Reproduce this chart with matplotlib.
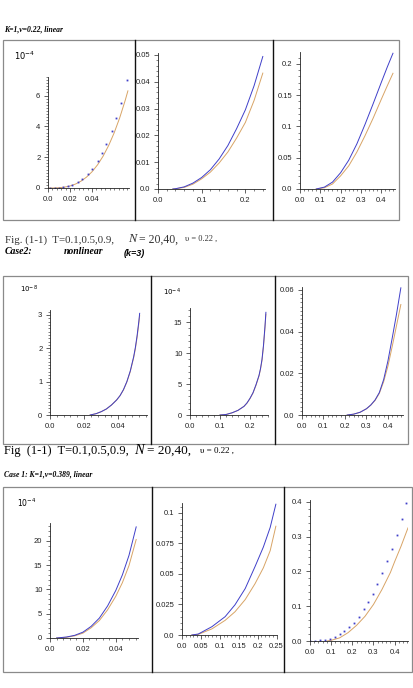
import matplotlib
matplotlib.use("Agg")
import matplotlib.pyplot as plt
from matplotlib.ticker import FixedLocator, AutoMinorLocator
from matplotlib.patches import Rectangle
from matplotlib.lines import Line2D

W, H = 414, 688
BLUE = '#3f3fc9'
ORANGE = '#d8a466'
SANS = 'Liberation Sans'
SERIF = 'Liberation Serif'

# ── data ─────────────────────────────────────────────────────────────────
# row 1, panel 1  (units of 1e-4)
r1p1_dot_x = [0.002, 0.006, 0.010, 0.014, 0.018, 0.022, 0.027, 0.031, 0.036,
              0.040, 0.045, 0.049, 0.053, 0.058, 0.062, 0.066, 0.0715]
r1p1_dot_y = [0.0, 0.0, 0.02, 0.05, 0.13, 0.20, 0.37, 0.57, 0.89,
              1.22, 1.74, 2.25, 2.84, 3.72, 4.55, 5.49, 6.98]
r1p1_line_x = [0.0, 0.005, 0.01, 0.015, 0.02, 0.025, 0.03, 0.035, 0.04,
               0.045, 0.05, 0.055, 0.06, 0.065, 0.07, 0.0725]
r1p1_line_y = [0.0, 0.002, 0.017, 0.056, 0.132, 0.258, 0.446, 0.709, 1.058,
               1.506, 2.066, 2.750, 3.571, 4.540, 5.670, 6.30]

# row 1, panel 2
r1p2_x = [0.034, 0.04, 0.06, 0.08, 0.10, 0.12, 0.14, 0.16, 0.18, 0.20, 0.22, 0.24]
r1p2_blue = [0.0, 0.0001, 0.0008, 0.0022, 0.0043, 0.0072, 0.0112, 0.0162,
             0.0225, 0.0295, 0.0385, 0.0494]
r1p2_orange = [0.0, 0.0001, 0.0006, 0.0018, 0.0038, 0.0063, 0.0097, 0.0138,
               0.0190, 0.0248, 0.0330, 0.0432]

# row 1, panel 3
r1p3_x = [0.08, 0.12, 0.16, 0.20, 0.24, 0.28, 0.32, 0.36, 0.40, 0.43, 0.458]
r1p3_blue = [0.0, 0.003, 0.011, 0.026, 0.046, 0.072, 0.103, 0.136, 0.170, 0.195, 0.217]
r1p3_orange = [0.0, 0.002, 0.008, 0.021, 0.037, 0.059, 0.085, 0.113, 0.143, 0.165, 0.185]

# row 2, panel 1  (units of 1e-8)
r2p1_x = [0.0235, 0.027, 0.03, 0.033, 0.036, 0.039, 0.041, 0.043, 0.045, 0.047,
          0.049, 0.050, 0.051, 0.052, 0.0525]
r2p1_blue = [0.0, 0.04, 0.10, 0.18, 0.30, 0.45, 0.58, 0.76, 1.00, 1.32,
             1.75, 2.03, 2.38, 2.80, 3.05]
r2p1_orange = [0.0, 0.04, 0.10, 0.18, 0.30, 0.45, 0.58, 0.75, 0.99, 1.30,
               1.72, 1.99, 2.33, 2.74, 2.98]

# row 2, panel 2  (units of 1e-4)
r2p2_x = [0.10, 0.12, 0.14, 0.16, 0.18, 0.19, 0.20, 0.21, 0.22, 0.23, 0.235,
          0.24, 0.245, 0.25, 0.253]
r2p2_blue = [0.0, 0.08, 0.35, 0.75, 1.4, 1.95, 2.7, 3.6, 4.9, 6.4, 7.5,
             9.0, 11.3, 14.4, 16.6]
r2p2_orange = [0.0, 0.08, 0.35, 0.75, 1.4, 1.93, 2.65, 3.55, 4.8, 6.3, 7.4,
               8.8, 11.1, 14.1, 16.3]

# row 2, panel 3
r2p3_x = [0.21, 0.24, 0.27, 0.30, 0.32, 0.34, 0.36, 0.38, 0.40, 0.42, 0.44, 0.46]
r2p3_blue = [0.0, 0.0004, 0.0013, 0.003, 0.0048, 0.0072, 0.0108, 0.017, 0.026,
             0.037, 0.0485, 0.061]
r2p3_orange = [0.0, 0.0004, 0.0013, 0.003, 0.0047, 0.0070, 0.0104, 0.016, 0.0235,
               0.033, 0.043, 0.053]

# row 3, panel 1  (units of 1e-4)
r3p1_x = [0.004, 0.01, 0.015, 0.02, 0.025, 0.03, 0.035, 0.04, 0.044, 0.048, 0.0524]
r3p1_blue = [0.0, 0.2, 0.55, 1.2, 2.4, 4.1, 6.6, 9.8, 13.0, 17.0, 22.9]
r3p1_orange = [0.0, 0.15, 0.45, 1.0, 2.1, 3.6, 5.8, 8.6, 11.4, 14.9, 20.3]

# row 3, panel 2
r3p2_x = [0.026, 0.043, 0.079, 0.114, 0.140, 0.167, 0.193, 0.215, 0.233, 0.248]
r3p2_blue = [0.0, 0.0008, 0.0068, 0.015, 0.0247, 0.038, 0.056, 0.072, 0.088, 0.107]
r3p2_orange = [0.0, 0.0005, 0.005, 0.012, 0.019, 0.029, 0.042, 0.055, 0.069, 0.089]

# row 3, panel 3
r3p3_dot_x = [0.0, 0.024, 0.047, 0.071, 0.094, 0.118, 0.141, 0.162, 0.184, 0.207,
              0.231, 0.253, 0.275, 0.296, 0.318, 0.340, 0.364, 0.387, 0.409, 0.433, 0.455]
r3p3_dot_y = [0.0, 0.001, 0.002, 0.003, 0.006, 0.0125, 0.020, 0.029, 0.039, 0.053,
              0.070, 0.091, 0.113, 0.136, 0.164, 0.195, 0.229, 0.265, 0.305, 0.349, 0.396]
r3p3_line_x = [0.08, 0.10, 0.14, 0.18, 0.22, 0.26, 0.30, 0.34, 0.38, 0.40, 0.43, 0.463]
r3p3_line_y = [0.0, 0.002, 0.009, 0.024, 0.045, 0.071, 0.105, 0.148, 0.197, 0.228, 0.272, 0.325]

# tick values / labels
r1p1_xt, r1p1_xl = [0.0, 0.02, 0.04], ['0.0', '0.02', '0.04']
r1p1_yt, r1p1_yl = [0, 2, 4, 6], ['0', '2', '4', '6']
r1p2_xt, r1p2_xl = [0.0, 0.1, 0.2], ['0.0', '0.1', '0.2']
r1p2_yt, r1p2_yl = [0.0, 0.01, 0.02, 0.03, 0.04, 0.05], ['0.0', '0.01', '0.02', '0.03', '0.04', '0.05']
r1p3_xt, r1p3_xl = [0.0, 0.1, 0.2, 0.3, 0.4], ['0.0', '0.1', '0.2', '0.3', '0.4']
r1p3_yt, r1p3_yl = [0.0, 0.05, 0.1, 0.15, 0.2], ['0.0', '0.05', '0.1', '0.15', '0.2']
r2p1_xt, r2p1_xl = [0.0, 0.02, 0.04], ['0.0', '0.02', '0.04']
r2p1_yt, r2p1_yl = [0, 1, 2, 3], ['0', '1', '2', '3']
r2p2_xt, r2p2_xl = [0.0, 0.1, 0.2], ['0.0', '0.1', '0.2']
r2p2_yt, r2p2_yl = [0, 5, 10, 15], ['0', '5', '10', '15']
r2p3_xt, r2p3_xl = [0.0, 0.1, 0.2, 0.3, 0.4], ['0.0', '0.1', '0.2', '0.3', '0.4']
r2p3_yt, r2p3_yl = [0.0, 0.02, 0.04, 0.06], ['0.0', '0.02', '0.04', '0.06']
r3p1_xt, r3p1_xl = [0.0, 0.02, 0.04], ['0.0', '0.02', '0.04']
r3p1_yt, r3p1_yl = [0, 5, 10, 15, 20], ['0', '5', '10', '15', '20']
r3p2_xt = [0.0, 0.05, 0.1, 0.15, 0.2, 0.25]
r3p2_xl = ['0.0', '0.05', '0.1', '0.15', '0.2', '0.25']
r3p2_yt, r3p2_yl = [0.0, 0.025, 0.05, 0.075, 0.1], ['0.0', '0.025', '0.05', '0.075', '0.1']
r3p3_xt, r3p3_xl = [0.0, 0.1, 0.2, 0.3, 0.4], ['0.0', '0.1', '0.2', '0.3', '0.4']
r3p3_yt, r3p3_yl = [0.0, 0.1, 0.2, 0.3, 0.4], ['0.0', '0.1', '0.2', '0.3', '0.4']


fig = plt.figure(figsize=(W / 100, H / 100), dpi=100, facecolor='white')


def px_axes(left, top, right, bottom):
	return fig.add_axes([left / W, 1 - bottom / H, (right - left) / W, (bottom - top) / H])


def maple_axes(ax, xlim, ylim, xt, xl, yt, yl, ynminor=5, xnminor=5):
	ax.set_xlim(*xlim)
	ax.set_ylim(*ylim)
	ax.patch.set_alpha(0)
	for s in ('top', 'right'):
		ax.spines[s].set_visible(False)
	for s in ('left', 'bottom'):
		ax.spines[s].set_linewidth(0.6)
		ax.spines[s].set_color('#222222')
	ax.xaxis.set_major_locator(FixedLocator(xt))
	ax.yaxis.set_major_locator(FixedLocator(yt))
	ax.set_xticklabels(xl)
	ax.set_yticklabels(yl)
	ax.xaxis.set_minor_locator(AutoMinorLocator(xnminor))
	ax.yaxis.set_minor_locator(AutoMinorLocator(ynminor))
	ax.tick_params(which='major', length=3, width=0.5, direction='out',
	               labelsize=5.5, pad=2.5, colors='#222222')
	ax.tick_params(which='minor', length=1.6, width=0.4, direction='out',
	               colors='#222222')
	for lab in ax.get_xticklabels() + ax.get_yticklabels():
		lab.set_fontfamily(SANS)


def ftext(x, y, s, **kw):
	kw.setdefault('va', 'center')
	kw.setdefault('ha', 'left')
	fig.text(x / W, 1 - y / H, s, **kw)


def frame(left, top, right, bottom, dividers):
	fig.add_artist(Rectangle((left / W, 1 - bottom / H), (right - left) / W,
	                         (bottom - top) / H, transform=fig.transFigure,
	                         fill=False, edgecolor='#8a8a8a', lw=0.9))
	for d in dividers:
		fig.add_artist(Line2D([d / W, d / W], [1 - bottom / H, 1 - top / H],
		                      transform=fig.transFigure, color='#111111', lw=1.0))


# ── row 1 ────────────────────────────────────────────────────────────────
frame(3, 40, 399, 220, [135, 273])

ax = px_axes(48, 77, 129, 188)
ax.plot(r1p1_line_x, r1p1_line_y, color=ORANGE, lw=0.7)
ax.plot(r1p1_dot_x, r1p1_dot_y, ls='none', marker='s', ms=1.3, color=BLUE, mew=0)
maple_axes(ax, (0, 0.0735), (0, 7.2), r1p1_xt, r1p1_xl, r1p1_yt, r1p1_yl, ynminor=10)
ftext(14, 56, r'$10^{-4}$', fontsize=6, family=SANS)

ax = px_axes(158, 53, 265, 189)
ax.plot(r1p2_x, r1p2_orange, color=ORANGE, lw=0.7)
ax.plot(r1p2_x, r1p2_blue, color=BLUE, lw=0.7)
maple_axes(ax, (0, 0.245), (0, 0.0507), r1p2_xt, r1p2_xl, r1p2_yt, r1p2_yl)

ax = px_axes(300, 52, 395, 189)
ax.plot(r1p3_x, r1p3_orange, color=ORANGE, lw=0.7)
ax.plot(r1p3_x, r1p3_blue, color=BLUE, lw=0.7)
maple_axes(ax, (0, 0.468), (0, 0.219), r1p3_xt, r1p3_xl, r1p3_yt, r1p3_yl)

ftext(4, 29, 'K=1,v=0.22, linear', fontsize=5.5, family=SERIF,
      style='italic', weight='bold')

# captions (overlapping in the scan; nudged apart slightly)
ftext(5, 240, 'Fig. (1-1)  T=0.1,0.5,0.9,', fontsize=7.8, family=SERIF, color='#333333')
ftext(128, 239, 'N', fontsize=9, family=SERIF, style='italic', color='#333333')
ftext(139, 240, '= 20,40,', fontsize=8.5, family=SERIF, color='#333333')
ftext(185, 239, 'υ = 0.22 ,', fontsize=6, family=SERIF, color='#333333')
ftext(5, 252, 'Case2:', fontsize=7, family=SERIF, style='italic', weight='bold')
ftext(64, 252, 'nonlinear', fontsize=7, family=SERIF, style='italic', weight='bold')
ftext(124, 253, '(k=3)', fontsize=6.5, family=SANS, style='italic', weight='bold')

# ── row 2 ────────────────────────────────────────────────────────────────
frame(3, 276, 408, 444, [151, 275])

ax = px_axes(50, 310, 147, 415)
ax.plot(r2p1_x, r2p1_orange, color=ORANGE, lw=0.7)
ax.plot(r2p1_x, r2p1_blue, color=BLUE, lw=0.7)
maple_axes(ax, (0, 0.0568), (0, 3.15), r2p1_xt, r2p1_xl, r2p1_yt, r2p1_yl, ynminor=10)
ftext(20, 289, r'$10^{-8}$', fontsize=5, family=SANS)

ax = px_axes(190, 308, 268, 415)
ax.plot(r2p2_x, r2p2_orange, color=ORANGE, lw=0.7)
ax.plot(r2p2_x, r2p2_blue, color=BLUE, lw=0.7)
maple_axes(ax, (0, 0.26), (0, 17.3), r2p2_xt, r2p2_xl, r2p2_yt, r2p2_yl)
ftext(163, 292, r'$10^{-4}$', fontsize=5, family=SANS)

ax = px_axes(302, 287, 403, 415)
ax.plot(r2p3_x, r2p3_orange, color=ORANGE, lw=0.7)
ax.plot(r2p3_x, r2p3_blue, color=BLUE, lw=0.7)
maple_axes(ax, (0, 0.47), (0, 0.0614), r2p3_xt, r2p3_xl, r2p3_yt, r2p3_yl, ynminor=10)

ftext(4, 451, 'Fig  (1-1)  T=0.1,0.5,0.9,', fontsize=9, family=SERIF)
ftext(134, 450, 'N', fontsize=10.5, family=SERIF, style='italic')
ftext(147, 451, '= 20,40,', fontsize=9.5, family=SERIF)
ftext(200, 451, 'υ = 0.22 ,', fontsize=6.5, family=SERIF)
ftext(4, 474, 'Case 1: K=1,v=0.389, linear', fontsize=5.5, family=SERIF,
      style='italic', weight='bold')

# ── row 3 ────────────────────────────────────────────────────────────────
frame(3, 487, 412, 672, [152, 284])

ax = px_axes(50, 523, 138, 638)
ax.plot(r3p1_x, r3p1_orange, color=ORANGE, lw=0.7)
ax.plot(r3p1_x, r3p1_blue, color=BLUE, lw=0.7)
maple_axes(ax, (0, 0.0535), (0, 23.7), r3p1_xt, r3p1_xl, r3p1_yt, r3p1_yl)
ftext(17, 503, r'$10^{-4}$', fontsize=5.5, family=SANS)

ax = px_axes(182, 503, 277, 635)
ax.plot(r3p2_x, r3p2_orange, color=ORANGE, lw=0.7)
ax.plot(r3p2_x, r3p2_blue, color=BLUE, lw=0.7)
maple_axes(ax, (0, 0.251), (0, 0.108), r3p2_xt, r3p2_xl, r3p2_yt, r3p2_yl)

ax = px_axes(310, 500, 408, 641)
ax.plot(r3p3_line_x, r3p3_line_y, color=ORANGE, lw=0.7)
ax.plot(r3p3_dot_x, r3p3_dot_y, ls='none', marker='s', ms=1.3, color=BLUE, mew=0)
maple_axes(ax, (0, 0.463), (0, 0.405), r3p3_xt, r3p3_xl, r3p3_yt, r3p3_yl)

fig.savefig('out.png', dpi=100)
